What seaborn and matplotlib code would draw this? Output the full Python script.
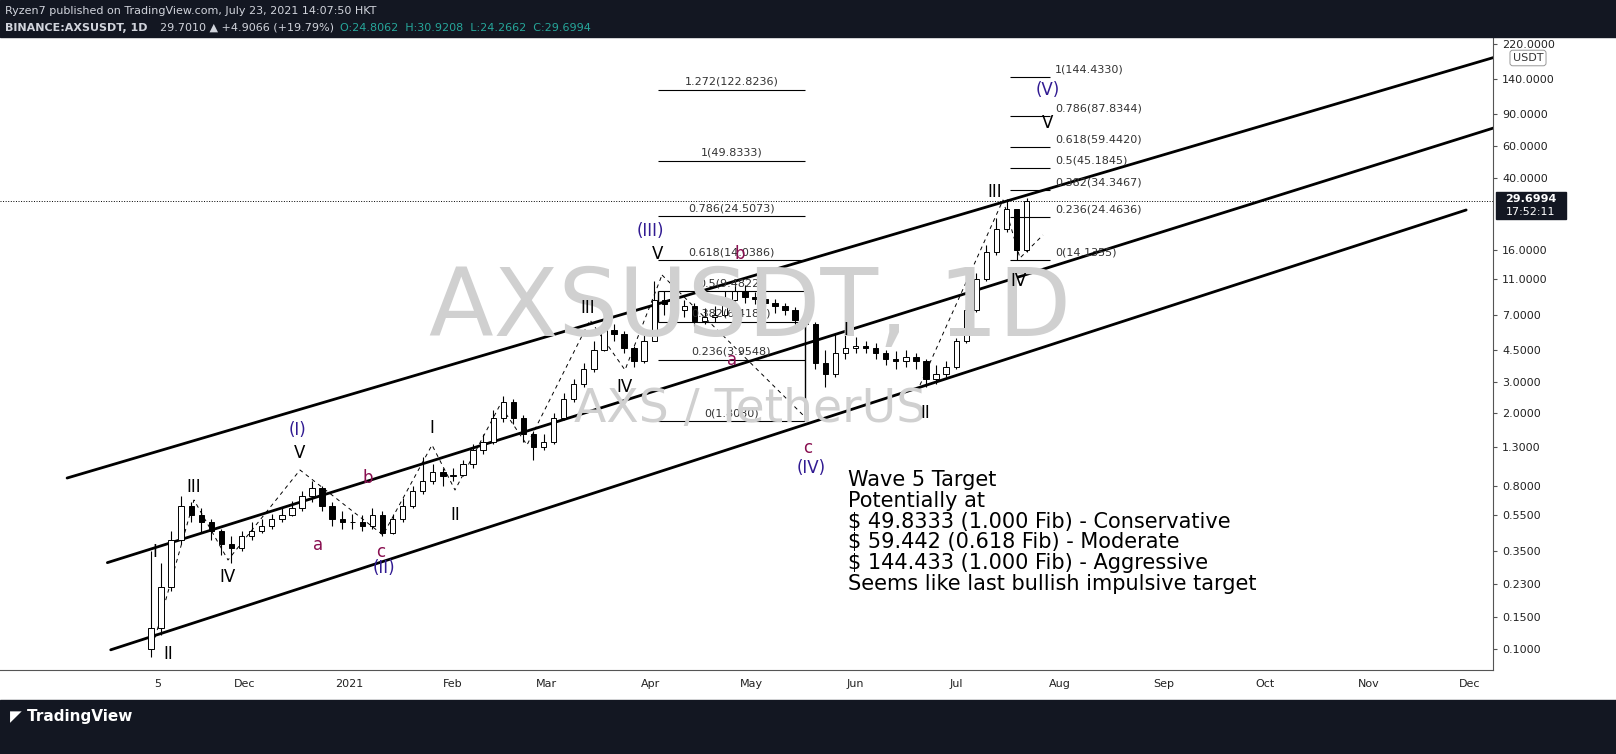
import numpy as np
import pandas as pd
import matplotlib.pyplot as plt
import matplotlib.dates as mdates
import seaborn as sns

sns.set_style("white")
plt.rcParams['font.family'] = 'DejaVu Sans'

# 3-day OHLC approximations, BINANCE:AXSUSDT
closes = [0.13, 0.22, 0.40, 0.62, 0.55, 0.50, 0.45, 0.38, 0.36, 0.42,
          0.45, 0.48, 0.52, 0.55, 0.60, 0.70, 0.78, 0.62, 0.52, 0.50,
          0.50, 0.48, 0.55, 0.44, 0.52, 0.62, 0.75, 0.85, 0.95, 0.90,
          0.92, 1.05, 1.25, 1.40, 1.90, 2.30, 1.90, 1.55, 1.30, 1.40,
          1.90, 2.40, 2.90, 3.50, 4.50, 5.80, 5.50, 4.60, 3.90, 5.00,
          8.50, 8.00, 7.50, 7.80, 6.50, 6.80, 7.00, 8.50, 9.50, 8.80,
          8.60, 8.20, 7.80, 7.50, 6.60, 6.20, 3.80, 3.30, 4.30, 4.60,
          4.70, 4.60, 4.30, 4.00, 3.90, 4.10, 3.90, 3.10, 3.30, 3.60,
          5.00, 7.50, 11.0, 15.5, 21.0, 27.0, 16.0, 29.7]
highs = [0.35, 0.30, 0.45, 0.70, 0.65, 0.60, 0.52, 0.46, 0.42, 0.45,
         0.50, 0.52, 0.56, 0.60, 0.66, 0.75, 0.85, 0.80, 0.65, 0.58,
         0.56, 0.55, 0.60, 0.58, 0.56, 0.68, 0.80, 1.15, 1.05, 1.00,
         1.00, 1.10, 1.35, 1.55, 2.10, 2.50, 2.40, 1.95, 1.60, 1.55,
         2.00, 2.60, 3.10, 3.80, 5.00, 6.30, 6.20, 5.70, 4.70, 5.50,
         10.8, 9.50, 8.80, 8.50, 8.20, 7.60, 7.80, 9.50, 11.0, 10.2,
         9.40, 9.00, 8.60, 8.20, 7.70, 6.90, 6.40, 4.50, 5.50, 6.00,
         5.30, 5.00, 4.90, 4.50, 4.40, 4.50, 4.30, 4.00, 3.70, 3.90,
         5.20, 7.80, 12.0, 17.0, 24.0, 30.5, 25.0, 30.9]
lows = [0.09, 0.12, 0.21, 0.38, 0.50, 0.44, 0.40, 0.33, 0.30, 0.35,
        0.40, 0.44, 0.46, 0.50, 0.54, 0.58, 0.65, 0.58, 0.48, 0.46,
        0.46, 0.45, 0.46, 0.42, 0.43, 0.50, 0.60, 0.72, 0.82, 0.80,
        0.85, 0.90, 1.00, 1.20, 1.35, 1.80, 1.75, 1.40, 1.10, 1.25,
        1.35, 1.85, 2.30, 2.80, 3.40, 4.40, 5.00, 4.30, 3.60, 3.80,
        5.00, 7.00, 6.70, 6.80, 6.10, 6.20, 6.40, 6.80, 8.40, 8.20,
        8.00, 7.80, 7.20, 7.00, 6.20, 5.80, 3.50, 2.80, 3.20, 4.00,
        4.30, 4.30, 4.00, 3.70, 3.50, 3.60, 3.50, 2.80, 2.90, 3.20,
        3.50, 4.90, 7.30, 10.8, 15.0, 20.0, 14.0, 15.5]
first_open = 0.10

# channel lines: (start date, start price, end date, end price)
channels = [("2020-10-09", 0.88, "2021-12-22", 220.0),
            ("2020-10-21", 0.30, "2021-12-13", 80.5),
            ("2020-10-22", 0.099, "2021-11-30", 26.6)]

fib_left_levels = [1.808, 3.9548, 6.4181, 9.4822, 14.0386, 24.5073, 49.8333, 122.8236]
fib_left_names = ["0(1.8080)", "0.236(3.9548)", "0.382(6.4181)", "0.5(9.4822)",
                  "0.618(14.0386)", "0.786(24.5073)", "1(49.8333)", "1.272(122.8236)"]
fib_right_levels = [14.1355, 24.4636, 34.3467, 45.1845, 59.4420, 87.8344, 144.4330]
fib_right_names = ["0(14.1355)", "0.236(24.4636)", "0.382(34.3467)", "0.5(45.1845)",
                   "0.618(59.4420)", "0.786(87.8344)", "1(144.4330)"]

ytick_vals = [0.1, 0.15, 0.23, 0.35, 0.55, 0.8, 1.3, 2.0, 3.0, 4.5, 7.0, 11.0,
              16.0, 40.0, 60.0, 90.0, 140.0, 220.0]
xtick_dates = ["2020-11-05", "2020-12-01", "2021-01-01", "2021-02-01", "2021-03-01",
               "2021-04-01", "2021-05-01", "2021-06-01", "2021-07-01", "2021-08-01",
               "2021-09-01", "2021-10-01", "2021-11-01", "2021-12-01"]
xtick_names = ["5", "Dec", "2021", "Feb", "Mar", "Apr", "May", "Jun", "Jul", "Aug",
               "Sep", "Oct", "Nov", "Dec"]

PURPLE = "#311b92"
MAROON = "#880e4f"
# wave labels (figure pixel positions, text, colour)
waves = [(298, 430, "(I)", PURPLE), (300, 453, "V", "k"), (194, 487, "III", "k"),
         (155, 552, "I", "k"), (228, 577, "IV", "k"), (168, 654, "II", "k"),
         (368, 478, "b", MAROON), (318, 545, "a", MAROON), (381, 552, "c", MAROON),
         (384, 568, "(II)", PURPLE), (432, 428, "I", "k"), (455, 515, "II", "k"),
         (588, 308, "III", "k"), (625, 387, "IV", "k"), (658, 254, "V", "k"),
         (650, 231, "(III)", PURPLE), (740, 254, "b", MAROON), (732, 360, "a", MAROON),
         (808, 448, "c", MAROON), (811, 468, "(IV)", PURPLE), (846, 330, "I", "k"),
         (925, 413, "II", "k"), (995, 192, "III", "k"), (1019, 281, "IV", "k"),
         (1048, 123, "V", "k"), (1048, 90, "(V)", PURPLE)]

W, H = 1616, 754
fig = plt.figure(figsize=(W / 100, H / 100), dpi=100)
ax = fig.add_axes([0, (H - 670) / H, 1493 / W, (670 - 37) / H])

dates = pd.date_range("2020-11-03", periods=len(closes), freq="3D")
opens = [first_open] + closes[:-1]
xs = mdates.date2num(dates)
for x, o, h, l, c in zip(xs, opens, highs, lows, closes):
    ax.vlines(x, l, h, color="black", lw=0.8, zorder=3)
    ax.bar(x, abs(c - o), bottom=min(o, c), width=1.6,
           color="white" if c >= o else "black", edgecolor="black", lw=0.7, zorder=4)

for d0, p0, d1, p1 in channels:
    ax.plot(pd.to_datetime([d0, d1]), [p0, p1], color="black", lw=2, zorder=2)

xmin = mdates.date2num(pd.Timestamp("2020-09-19"))
xmax = mdates.date2num(pd.Timestamp("2021-12-08"))
ax.set_xlim(xmin, xmax)
ax.set_yscale("log")
ax.set_ylim(0.0766, 240)

def px(x, y):
    # figure pixel -> data coordinates (annotation helper)
    inv = ax.transData.inverted()
    return inv.transform(fig.transFigure.transform((x / W, 1 - y / H)))

# left fib
fl0, fl1 = mdates.date2num(pd.Timestamp("2021-04-03")), mdates.date2num(pd.Timestamp("2021-05-17"))
for lv, nm in zip(fib_left_levels, fib_left_names):
    ax.hlines(lv, fl0, fl1, color="black", lw=0.8, zorder=5)
    ax.text((fl0 + fl1) / 2, lv * 1.04, nm, ha="center", va="bottom", fontsize=8, color="#333333", zorder=6)
ax.vlines(fl1, fib_left_levels[0], fib_left_levels[2], color="black", lw=1)
ax.vlines(fl0, fib_left_levels[2], fib_left_levels[3], color="black", lw=1)
# right fib
fr0, fr1 = mdates.date2num(pd.Timestamp("2021-07-17")), mdates.date2num(pd.Timestamp("2021-07-29"))
for lv, nm in zip(fib_right_levels, fib_right_names):
    ax.hlines(lv, fr0, fr1, color="black", lw=0.8, zorder=5)
    ax.text(fr1 + 1.5, lv * 1.03, nm, ha="left", va="bottom", fontsize=8, color="#333333", zorder=6)

# dashed wave connectors
dashes = [[(153, 645), (194, 500), (228, 560), (300, 470), (383, 535), (432, 445),
           (455, 490), (500, 405), (527, 445), (590, 320), (625, 370), (662, 275)],
          [(662, 275), (808, 420)], [(920, 385), (1003, 200), (1020, 258), (1043, 235)]]
for seg in dashes:
    pts = np.array([px(x, y) for x, y in seg])
    ax.plot(pts[:, 0], pts[:, 1], ls=(0, (4, 4)), color="black", lw=0.7, zorder=2)

# current price line
ax.axhline(closes[-1], color="black", lw=0.7, ls=":", zorder=1)

ax.yaxis.tick_right()
ax.set_yticks(ytick_vals)
ax.set_yticklabels([f"{v:.4f}" for v in ytick_vals], fontsize=8)
ax.yaxis.set_minor_locator(plt.NullLocator())
ax.set_xticks(mdates.date2num(pd.to_datetime(xtick_dates)))
ax.set_xticklabels(xtick_names, fontsize=8)
ax.tick_params(length=3, color="#555555", labelcolor="#222222")
for s in ["top", "left"]:
    ax.spines[s].set_visible(False)
ax.spines["right"].set_color("#555555")
ax.spines["bottom"].set_color("#555555")

fig.text(750 / W, 1 - 310 / H, "AXSUSDT, 1D", fontsize=68, color="#d0d0d0", ha="center", va="center", zorder=0)
fig.text(750 / W, 1 - 410 / H, "AXS / TetherUS", fontsize=34, color="#d0d0d0", ha="center", va="center", zorder=0)

for x, y, t, c in waves:
    fig.text(x / W, 1 - y / H, t, fontsize=12, color=c, ha="center", va="center", zorder=10)

txt = ("Wave 5 Target\nPotentially at\n$ 49.8333 (1.000 Fib) - Conservative\n"
       "$ 59.442 (0.618 Fib) - Moderate\n$ 144.433 (1.000 Fib) - Aggressive\n"
       "Seems like last bullish impulsive target")
fig.text(848 / W, 1 - 470 / H, txt, fontsize=15, color="black", ha="left", va="top", linespacing=1.05)

# price boxes on axis
fig.patches.append(plt.Rectangle((1496 / W, 1 - 219 / H), 70 / W, 27 / H, transform=fig.transFigure,
                                 color="#131722", zorder=5))
fig.text(1531 / W, 1 - 199 / H, "29.6994", color="white", fontsize=8, ha="center", va="center",
         weight="bold", zorder=20)
fig.text(1531 / W, 1 - 212 / H, "17:52:11", color="white", fontsize=8, ha="center", va="center", zorder=20)
fig.text(1528 / W, 1 - 58 / H, "USDT", color="#333333", fontsize=8, ha="center", va="center",
         bbox=dict(boxstyle="round,pad=0.25", fc="white", ec="#999999", lw=0.7))

# header and footer bars
fig.patches.append(plt.Rectangle((0, 1 - 37 / H), 1, 37 / H, transform=fig.transFigure, color="#131722", zorder=0))
fig.patches.append(plt.Rectangle((0, 0), 1, 54 / H, transform=fig.transFigure, color="#131722", zorder=0))
fig.text(5 / W, 1 - 11 / H, "Ryzen7 published on TradingView.com, July 23, 2021 14:07:50 HKT",
         color="#d1d4dc", fontsize=8, va="center")
fig.text(5 / W, 1 - 28 / H, "BINANCE:AXSUSDT, 1D", color="#d1d4dc",
         fontsize=8, va="center", weight="bold")
fig.text(160 / W, 1 - 28 / H, "29.7010 \u25b2 +4.9066 (+19.79%)", color="#d1d4dc",
         fontsize=8, va="center")
fig.text(340 / W, 1 - 28 / H, "O:24.8062  H:30.9208  L:24.2662  C:29.6994", color="#26a69a",
         fontsize=8, va="center")
fig.text(10 / W, 1 - 716 / H, "\u25e4 TradingView", color="white", fontsize=11, weight="bold", va="center")

fig.savefig("out.png", dpi=100)
